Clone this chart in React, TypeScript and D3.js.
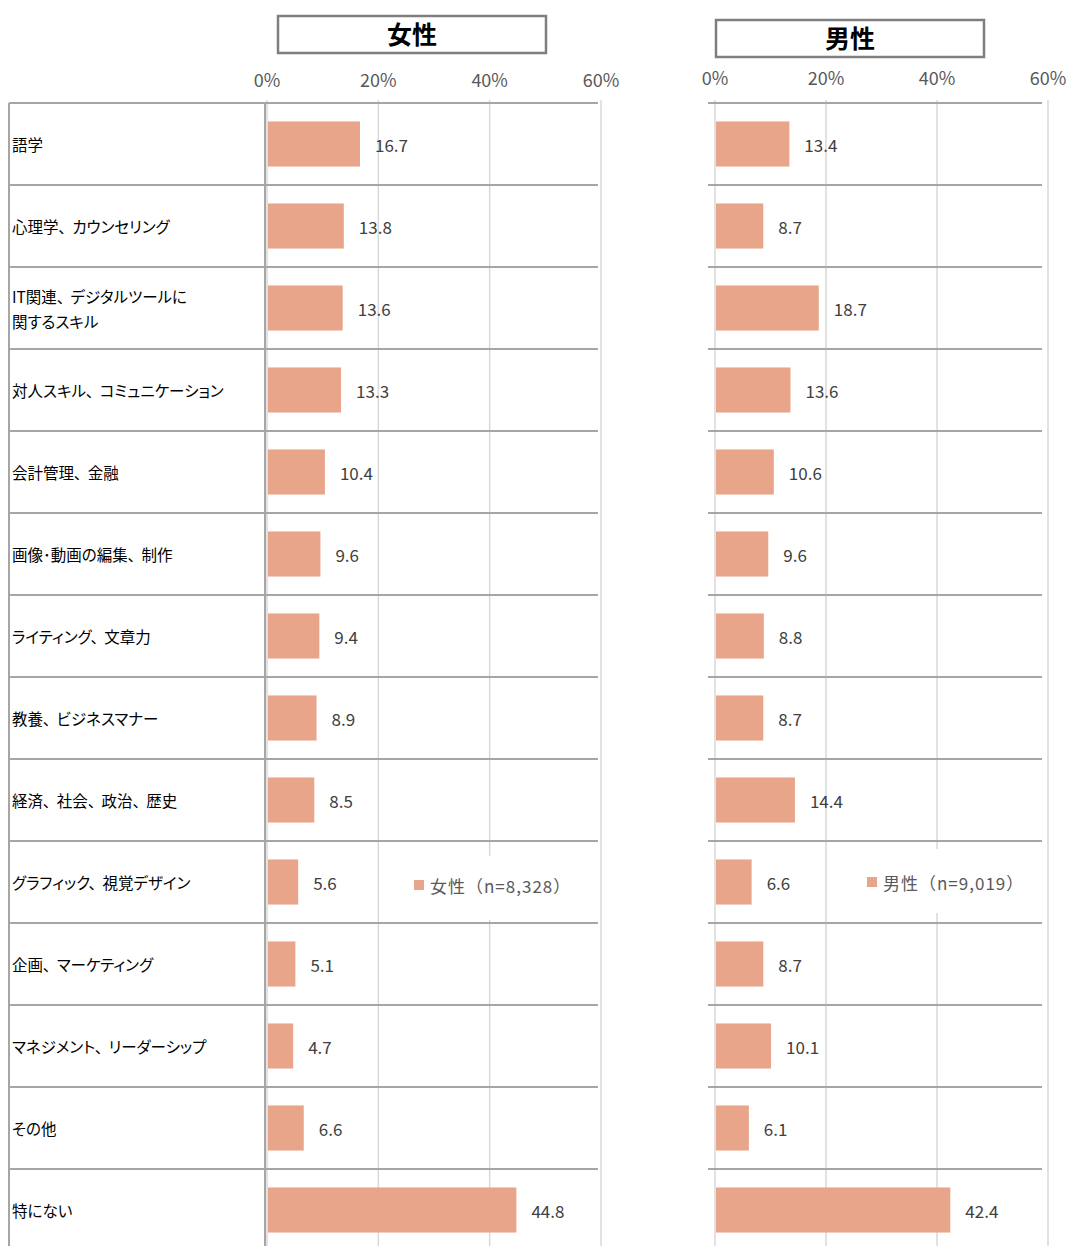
import React from "react";
import * as d3 from "d3";

const categories: string[] = [
  "語学",
  "心理学、カウンセリング",
  "IT関連、デジタルツールに\n関するスキル",
  "対人スキル、コミュニケーション",
  "会計管理、金融",
  "画像･動画の編集、制作",
  "ライティング、文章力",
  "教養、ビジネスマナー",
  "経済、社会、政治、歴史",
  "グラフィック、視覚デザイン",
  "企画、マーケティング",
  "マネジメント、リーダーシップ",
  "その他",
  "特にない",
];
const womenValues: number[] = [16.7, 13.8, 13.6, 13.3, 10.4, 9.6, 9.4, 8.9, 8.5, 5.6, 5.1, 4.7, 6.6, 44.8];
const menValues: number[] = [13.4, 8.7, 18.7, 13.6, 10.6, 9.6, 8.8, 8.7, 14.4, 6.6, 8.7, 10.1, 6.1, 42.4];
const ticks: number[] = [0, 20, 40, 60];
const titles: string[] = ["女性", "男性"];
const legendLabels: string[] = ["女性（n=8,328）", "男性（n=9,019）"];

const W = 1071;
const H = 1246;
const FONT = "'Noto Sans CJK JP', 'Noto Sans', sans-serif";
const BAR = "#e9a58a";
const ROW_TOP = 103;
const ROW_H = 82;

function LabelLine({ text, x, y }: { text: string; x: number; y: number }) {
  const parts = text.split("、");
  return (
    <>
      {parts.map((seg, k) => (
        <tspan key={k} x={k === 0 ? x : undefined} y={k === 0 ? y : undefined} dx={k === 0 ? undefined : 6} dominantBaseline="central">
          {seg + (k < parts.length - 1 ? "、" : "")}
        </tspan>
      ))}
    </>
  );
}

export default function App() {
  const y = d3
    .scaleBand<number>()
    .domain(d3.range(categories.length))
    .range([ROW_TOP, ROW_TOP + ROW_H * categories.length])
    .paddingInner(0.45)
    .paddingOuter(0.225);

  const panels = [
    { values: womenValues, x0: 267, x1: 601, lineL: 9, lineR: 598, tickY: 79, title: titles[0], box: [278, 16, 268, 37], legend: legendLabels[0], legX: 414, legY: 885, legBox: [400, 856, 180, 64] },
    { values: menValues, x0: 715, x1: 1048, lineL: 708, lineR: 1042, tickY: 77, title: titles[1], box: [716, 20, 268, 37], legend: legendLabels[1], legX: 867, legY: 882, legBox: [850, 849, 185, 64] },
  ];

  const rowLines = d3.range(categories.length + 1).map((i) => ROW_TOP + i * ROW_H);

  return (
    <svg width={W} height={H} style={{ position: "absolute", left: 0, top: 0, background: "#fff" }} fontFamily={FONT}>
      <rect x={0} y={0} width={W} height={H} fill="#fff" />
      {panels.map((p, pi) => {
        const x = d3.scaleLinear().domain([0, 60]).range([p.x0, p.x1]);
        return (
          <g key={pi}>
            {/* title box */}
            <rect x={p.box[0]} y={p.box[1]} width={p.box[2]} height={p.box[3]} fill="#fff" stroke="#7f7f7f" strokeWidth={2.5} />
            <text x={p.box[0] + p.box[2] / 2} y={p.box[1] + p.box[3] / 2 - 2} textAnchor="middle" dominantBaseline="central" fontSize={25} fontWeight="bold" fill="#000">
              {p.title}
            </text>
            {/* ticks */}
            {ticks.map((t) => (
              <text key={t} x={x(t)} y={p.tickY} textAnchor="middle" dominantBaseline="central" fontSize={18} fill="#595959">
                {t}%
              </text>
            ))}
            {/* gridlines */}
            {ticks.map((t) => (
              <line key={"g" + t} x1={x(t)} x2={x(t)} y1={ROW_TOP - 3} y2={H} stroke="#d9d9d9" strokeWidth={1.5} />
            ))}
            {/* legend background (covers gridlines only) */}
            <rect x={p.legBox[0]} y={p.legBox[1]} width={p.legBox[2]} height={p.legBox[3]} fill="#fff" />
            {/* row lines */}
            {rowLines.map((ly, i) => (
              <line key={"r" + i} x1={p.lineL} x2={p.lineR} y1={ly} y2={ly} stroke="#a6a6a6" strokeWidth={2} />
            ))}
            {/* bars */}
            {p.values.map((v, i) => (
              <rect key={"b" + i} x={x(0) + 1} y={y(i)!} width={x(v) - x(0) - 1} height={y.bandwidth()} fill={BAR} />
            ))}
            {p.values.map((v, i) => (
              <text key={"v" + i} x={x(v) + 15} y={y(i)! + y.bandwidth() / 2} dominantBaseline="central" fontSize={17} fill="#404040">
                {v.toFixed(1)}
              </text>
            ))}
            {/* legend */}
            <rect x={p.legX} y={p.legY - 5} width={10} height={10} fill={BAR} />
            <text x={p.legX + 16} y={p.legY} dominantBaseline="central" fontSize={17} letterSpacing={1} fill="#595959">
              {p.legend}
            </text>
          </g>
        );
      })}
      {/* left table verticals */}
      <line x1={9} x2={9} y1={ROW_TOP} y2={H} stroke="#a6a6a6" strokeWidth={2} />
      <line x1={265} x2={265} y1={ROW_TOP} y2={H} stroke="#a6a6a6" strokeWidth={2} />
      {/* category labels */}
      {categories.map((c, i) => {
        const lines = c.split("\n");
        const cy = y(i)! + y.bandwidth() / 2;
        return lines.map((l, li) => (
          <text key={"c" + i + "-" + li} fontSize={15.5} fill="#000" style={{ fontFeatureSettings: '"palt"' }}>
            <LabelLine text={l} x={12} y={cy + (li - (lines.length - 1) / 2) * 25} />
          </text>
        ));
      })}
    </svg>
  );
}
